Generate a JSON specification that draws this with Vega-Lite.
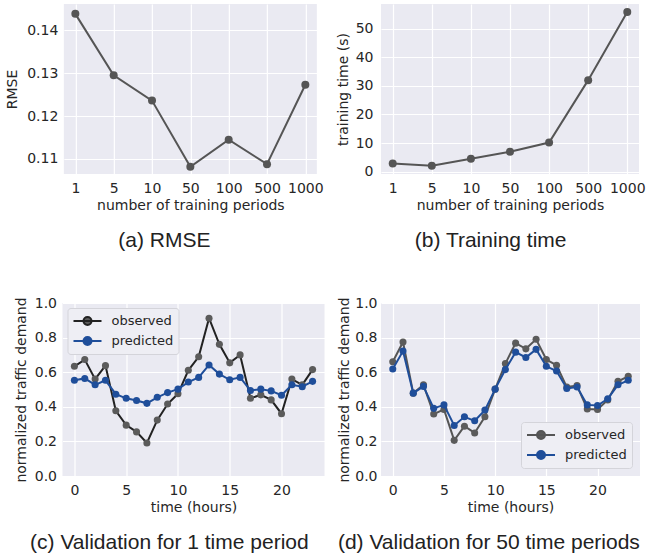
{
  "$schema": "https://vega.github.io/schema/vega-lite/v6.json",
  "background": "white",
  "padding": {"left": 5, "top": 4, "right": 2, "bottom": 2},
  "config": {
    "view": {"fill": "#EAEAF2", "stroke": null},
    "axis": {
      "domain": false,
      "ticks": false,
      "grid": true,
      "gridColor": "#FFFFFF",
      "gridWidth": 1.2,
      "labelFont": "DejaVu Sans",
      "labelFontSize": 14,
      "labelColor": "#262626",
      "labelPadding": 7,
      "titleFont": "DejaVu Sans",
      "titleFontSize": 14,
      "titleFontWeight": "normal",
      "titleColor": "#262626",
      "titlePadding": 5
    },
    "legend": {
      "labelFont": "DejaVu Sans",
      "labelFontSize": 13,
      "labelColor": "#262626",
      "fillColor": "#EEEEF4",
      "strokeColor": "#D4D4DA",
      "cornerRadius": 3,
      "padding": 5,
      "rowPadding": 4,
      "labelOffset": 23
    },
    "title": {
      "font": "Liberation Sans",
      "fontSize": 21,
      "fontWeight": "normal",
      "color": "#222222",
      "orient": "bottom",
      "anchor": "middle",
      "frame": "bounds",
      "offset": 18
    }
  },
  "datasets": {
    "perf": [
      {"periods": "1", "rmse": 0.1438, "time": 2.9},
      {"periods": "5", "rmse": 0.1295, "time": 2.1},
      {"periods": "10", "rmse": 0.1236, "time": 4.5},
      {"periods": "50", "rmse": 0.1082, "time": 7.0},
      {"periods": "100", "rmse": 0.1145, "time": 10.2},
      {"periods": "500", "rmse": 0.1088, "time": 32.0},
      {"periods": "1000", "rmse": 0.1273, "time": 55.8}
    ],
    "val1": [
      {"hour": 0, "series": "observed", "value": 0.634},
      {"hour": 1, "series": "observed", "value": 0.673},
      {"hour": 2, "series": "observed", "value": 0.560},
      {"hour": 3, "series": "observed", "value": 0.638},
      {"hour": 4, "series": "observed", "value": 0.377},
      {"hour": 5, "series": "observed", "value": 0.294},
      {"hour": 6, "series": "observed", "value": 0.255},
      {"hour": 7, "series": "observed", "value": 0.191},
      {"hour": 8, "series": "observed", "value": 0.323},
      {"hour": 9, "series": "observed", "value": 0.416},
      {"hour": 10, "series": "observed", "value": 0.475},
      {"hour": 11, "series": "observed", "value": 0.611},
      {"hour": 12, "series": "observed", "value": 0.689},
      {"hour": 13, "series": "observed", "value": 0.912},
      {"hour": 14, "series": "observed", "value": 0.761},
      {"hour": 15, "series": "observed", "value": 0.654},
      {"hour": 16, "series": "observed", "value": 0.700},
      {"hour": 17, "series": "observed", "value": 0.449},
      {"hour": 18, "series": "observed", "value": 0.469},
      {"hour": 19, "series": "observed", "value": 0.440},
      {"hour": 20, "series": "observed", "value": 0.360},
      {"hour": 21, "series": "observed", "value": 0.560},
      {"hour": 22, "series": "observed", "value": 0.527},
      {"hour": 23, "series": "observed", "value": 0.615},
      {"hour": 0, "series": "predicted", "value": 0.553},
      {"hour": 1, "series": "predicted", "value": 0.564},
      {"hour": 2, "series": "predicted", "value": 0.527},
      {"hour": 3, "series": "predicted", "value": 0.553},
      {"hour": 4, "series": "predicted", "value": 0.473},
      {"hour": 5, "series": "predicted", "value": 0.449},
      {"hour": 6, "series": "predicted", "value": 0.436},
      {"hour": 7, "series": "predicted", "value": 0.420},
      {"hour": 8, "series": "predicted", "value": 0.455},
      {"hour": 9, "series": "predicted", "value": 0.482},
      {"hour": 10, "series": "predicted", "value": 0.502},
      {"hour": 11, "series": "predicted", "value": 0.543},
      {"hour": 12, "series": "predicted", "value": 0.570},
      {"hour": 13, "series": "predicted", "value": 0.642},
      {"hour": 14, "series": "predicted", "value": 0.589},
      {"hour": 15, "series": "predicted", "value": 0.556},
      {"hour": 16, "series": "predicted", "value": 0.570},
      {"hour": 17, "series": "predicted", "value": 0.494},
      {"hour": 18, "series": "predicted", "value": 0.502},
      {"hour": 19, "series": "predicted", "value": 0.492},
      {"hour": 20, "series": "predicted", "value": 0.467},
      {"hour": 21, "series": "predicted", "value": 0.527},
      {"hour": 22, "series": "predicted", "value": 0.516},
      {"hour": 23, "series": "predicted", "value": 0.547}
    ],
    "val50": [
      {"hour": 0, "series": "observed", "value": 0.660},
      {"hour": 1, "series": "observed", "value": 0.774},
      {"hour": 2, "series": "observed", "value": 0.479},
      {"hour": 3, "series": "observed", "value": 0.527},
      {"hour": 4, "series": "observed", "value": 0.358},
      {"hour": 5, "series": "observed", "value": 0.385},
      {"hour": 6, "series": "observed", "value": 0.206},
      {"hour": 7, "series": "observed", "value": 0.288},
      {"hour": 8, "series": "observed", "value": 0.249},
      {"hour": 9, "series": "observed", "value": 0.342},
      {"hour": 10, "series": "observed", "value": 0.502},
      {"hour": 11, "series": "observed", "value": 0.650},
      {"hour": 12, "series": "observed", "value": 0.768},
      {"hour": 13, "series": "observed", "value": 0.735},
      {"hour": 14, "series": "observed", "value": 0.790},
      {"hour": 15, "series": "observed", "value": 0.673},
      {"hour": 16, "series": "observed", "value": 0.640},
      {"hour": 17, "series": "observed", "value": 0.514},
      {"hour": 18, "series": "observed", "value": 0.523},
      {"hour": 19, "series": "observed", "value": 0.387},
      {"hour": 20, "series": "observed", "value": 0.385},
      {"hour": 21, "series": "observed", "value": 0.440},
      {"hour": 22, "series": "observed", "value": 0.547},
      {"hour": 23, "series": "observed", "value": 0.576},
      {"hour": 0, "series": "predicted", "value": 0.619},
      {"hour": 1, "series": "predicted", "value": 0.722},
      {"hour": 2, "series": "predicted", "value": 0.479},
      {"hour": 3, "series": "predicted", "value": 0.518},
      {"hour": 4, "series": "predicted", "value": 0.391},
      {"hour": 5, "series": "predicted", "value": 0.411},
      {"hour": 6, "series": "predicted", "value": 0.292},
      {"hour": 7, "series": "predicted", "value": 0.342},
      {"hour": 8, "series": "predicted", "value": 0.319},
      {"hour": 9, "series": "predicted", "value": 0.381},
      {"hour": 10, "series": "predicted", "value": 0.502},
      {"hour": 11, "series": "predicted", "value": 0.615},
      {"hour": 12, "series": "predicted", "value": 0.716},
      {"hour": 13, "series": "predicted", "value": 0.685},
      {"hour": 14, "series": "predicted", "value": 0.732},
      {"hour": 15, "series": "predicted", "value": 0.634},
      {"hour": 16, "series": "predicted", "value": 0.607},
      {"hour": 17, "series": "predicted", "value": 0.506},
      {"hour": 18, "series": "predicted", "value": 0.514},
      {"hour": 19, "series": "predicted", "value": 0.411},
      {"hour": 20, "series": "predicted", "value": 0.407},
      {"hour": 21, "series": "predicted", "value": 0.446},
      {"hour": 22, "series": "predicted", "value": 0.527},
      {"hour": 23, "series": "predicted", "value": 0.553}
    ]
  },
  "columns": 2,
  "align": "all",
  "center": {"column": true, "row": false},
  "bounds": "full",
  "spacing": {"row": 42, "column": 10},
  "resolve": {"scale": {"color": "independent", "fill": "independent"}, "legend": {"color": "independent"}},
  "concat": [
    {
      "width": 253,
      "height": 170,
      "data": {"name": "perf"},
      "title": {"text": "(a) RMSE"},
      "encoding": {
        "x": {"field": "periods", "type": "ordinal", "sort": ["1", "5", "10", "50", "100", "500", "1000"], "scale": {"type": "point", "padding": 0.3}, "axis": {"labelAngle": 0, "title": "number of training periods", "titlePadding": 3}},
        "y": {"field": "rmse", "type": "quantitative", "scale": {"domain": [0.1065, 0.1461], "nice": false, "zero": false}, "axis": {"values": [0.11, 0.12, 0.13, 0.14], "format": ".2f", "title": "RMSE", "titlePadding": 7, "labelPadding": 6}}
      },
      "layer": [
        {"mark": {"type": "line", "color": "#555555", "strokeWidth": 2}},
        {"mark": {"type": "point", "filled": true, "color": "#555555", "size": 64, "opacity": 1}}
      ]
    },
    {
      "width": 258,
      "height": 170,
      "data": {"name": "perf"},
      "title": {"text": "(b) Training time"},
      "encoding": {
        "x": {"field": "periods", "type": "ordinal", "sort": ["1", "5", "10", "50", "100", "500", "1000"], "scale": {"type": "point", "padding": 0.3}, "axis": {"labelAngle": 0, "title": "number of training periods", "titlePadding": 3}},
        "y": {"field": "time", "type": "quantitative", "scale": {"domain": [-0.8, 58.6], "nice": false, "zero": false}, "axis": {"values": [0, 10, 20, 30, 40, 50], "title": "training time (s)", "titlePadding": 5, "labelPadding": 8}}
      },
      "layer": [
        {"mark": {"type": "line", "color": "#555555", "strokeWidth": 2}},
        {"mark": {"type": "point", "filled": true, "color": "#555555", "size": 64, "opacity": 1}}
      ]
    },
    {
      "width": 262,
      "height": 173,
      "data": {"name": "val1"},
      "title": {"text": "(c) Validation for 1 time period"},
      "encoding": {
        "x": {"field": "hour", "type": "quantitative", "scale": {"domain": [-1.15, 24.15], "nice": false, "zero": false}, "axis": {"values": [0, 5, 10, 15, 20], "title": "time (hours)", "titlePadding": 3}},
        "y": {"field": "value", "type": "quantitative", "scale": {"domain": [0, 1], "nice": false}, "axis": {"values": [0, 0.2, 0.4, 0.6, 0.8, 1.0], "format": ".1f", "title": "normalized traffic demand", "titlePadding": 6, "labelPadding": 6}}
      },
      "layer": [
        {
          "transform": [{"filter": "datum.series === 'observed'"}],
          "mark": {"type": "line", "strokeWidth": 2},
          "encoding": {
            "color": {
              "field": "series", "type": "nominal",
              "scale": {"domain": ["observed", "predicted"], "range": ["#222222", "#1f4e9a"]},
              "legend": {
                "title": null, "orient": "top-left", "offset": 5,
                "symbolType": "M-1,0L3,0M1.57,0A0.57,0.57,0,1,1,0.43,0A0.57,0.57,0,1,1,1.57,0Z",
                "symbolSize": 196, "symbolStrokeWidth": 2,
                "encode": {"symbols": {"update": {
                  "fill": {"signal": "datum.value === 'observed' ? '#222222' : '#1f4e9a'"},
                  "stroke": {"signal": "datum.value === 'observed' ? '#222222' : '#1f4e9a'"},
                  "opacity": {"value": 1}
                }}}
              }
            }
          }
        },
        {
          "transform": [{"filter": "datum.series === 'observed'"}],
          "mark": {"type": "point", "filled": true, "size": 50, "opacity": 1},
          "encoding": {"fill": {"field": "series", "type": "nominal", "scale": {"domain": ["observed", "predicted"], "range": ["#5b5b5b", "#1f4e9a"]}, "legend": null}}
        },
        {
          "transform": [{"filter": "datum.series === 'predicted'"}],
          "mark": {"type": "line", "strokeWidth": 2},
          "encoding": {"color": {"field": "series", "type": "nominal"}}
        },
        {
          "transform": [{"filter": "datum.series === 'predicted'"}],
          "mark": {"type": "point", "filled": true, "size": 50, "opacity": 1},
          "encoding": {"fill": {"field": "series", "type": "nominal", "legend": null}}
        }
      ]
    },
    {
      "width": 259,
      "height": 173,
      "data": {"name": "val50"},
      "title": {"text": "(d) Validation for 50 time periods"},
      "encoding": {
        "x": {"field": "hour", "type": "quantitative", "scale": {"domain": [-1.15, 24.15], "nice": false, "zero": false}, "axis": {"values": [0, 5, 10, 15, 20], "title": "time (hours)", "titlePadding": 3}},
        "y": {"field": "value", "type": "quantitative", "scale": {"domain": [0, 1], "nice": false}, "axis": {"values": [0, 0.2, 0.4, 0.6, 0.8, 1.0], "format": ".1f", "title": "normalized traffic demand", "titlePadding": 3, "labelPadding": 4}}
      },
      "layer": [
        {
          "transform": [{"filter": "datum.series === 'observed'"}],
          "mark": {"type": "line", "strokeWidth": 2},
          "encoding": {
            "color": {
              "field": "series", "type": "nominal",
              "scale": {"domain": ["observed", "predicted"], "range": ["#555555", "#1f4e9a"]},
              "legend": {
                "title": null, "orient": "bottom-right", "offset": 8,
                "symbolType": "M-1,0L3,0M1.57,0A0.57,0.57,0,1,1,0.43,0A0.57,0.57,0,1,1,1.57,0Z",
                "symbolSize": 196, "symbolStrokeWidth": 2,
                "encode": {"symbols": {"update": {
                  "fill": {"signal": "datum.value === 'observed' ? '#2a2a2a' : '#1f4e9a'"},
                  "stroke": {"signal": "datum.value === 'observed' ? '#555555' : '#1f4e9a'"},
                  "opacity": {"value": 1}
                }}}
              }
            }
          }
        },
        {
          "transform": [{"filter": "datum.series === 'observed'"}],
          "mark": {"type": "point", "filled": true, "size": 50, "opacity": 1},
          "encoding": {"fill": {"field": "series", "type": "nominal", "scale": {"domain": ["observed", "predicted"], "range": ["#5b5b5b", "#1f4e9a"]}, "legend": null}}
        },
        {
          "transform": [{"filter": "datum.series === 'predicted'"}],
          "mark": {"type": "line", "strokeWidth": 2},
          "encoding": {"color": {"field": "series", "type": "nominal"}}
        },
        {
          "transform": [{"filter": "datum.series === 'predicted'"}],
          "mark": {"type": "point", "filled": true, "size": 50, "opacity": 1},
          "encoding": {"fill": {"field": "series", "type": "nominal", "legend": null}}
        }
      ]
    }
  ]
}
